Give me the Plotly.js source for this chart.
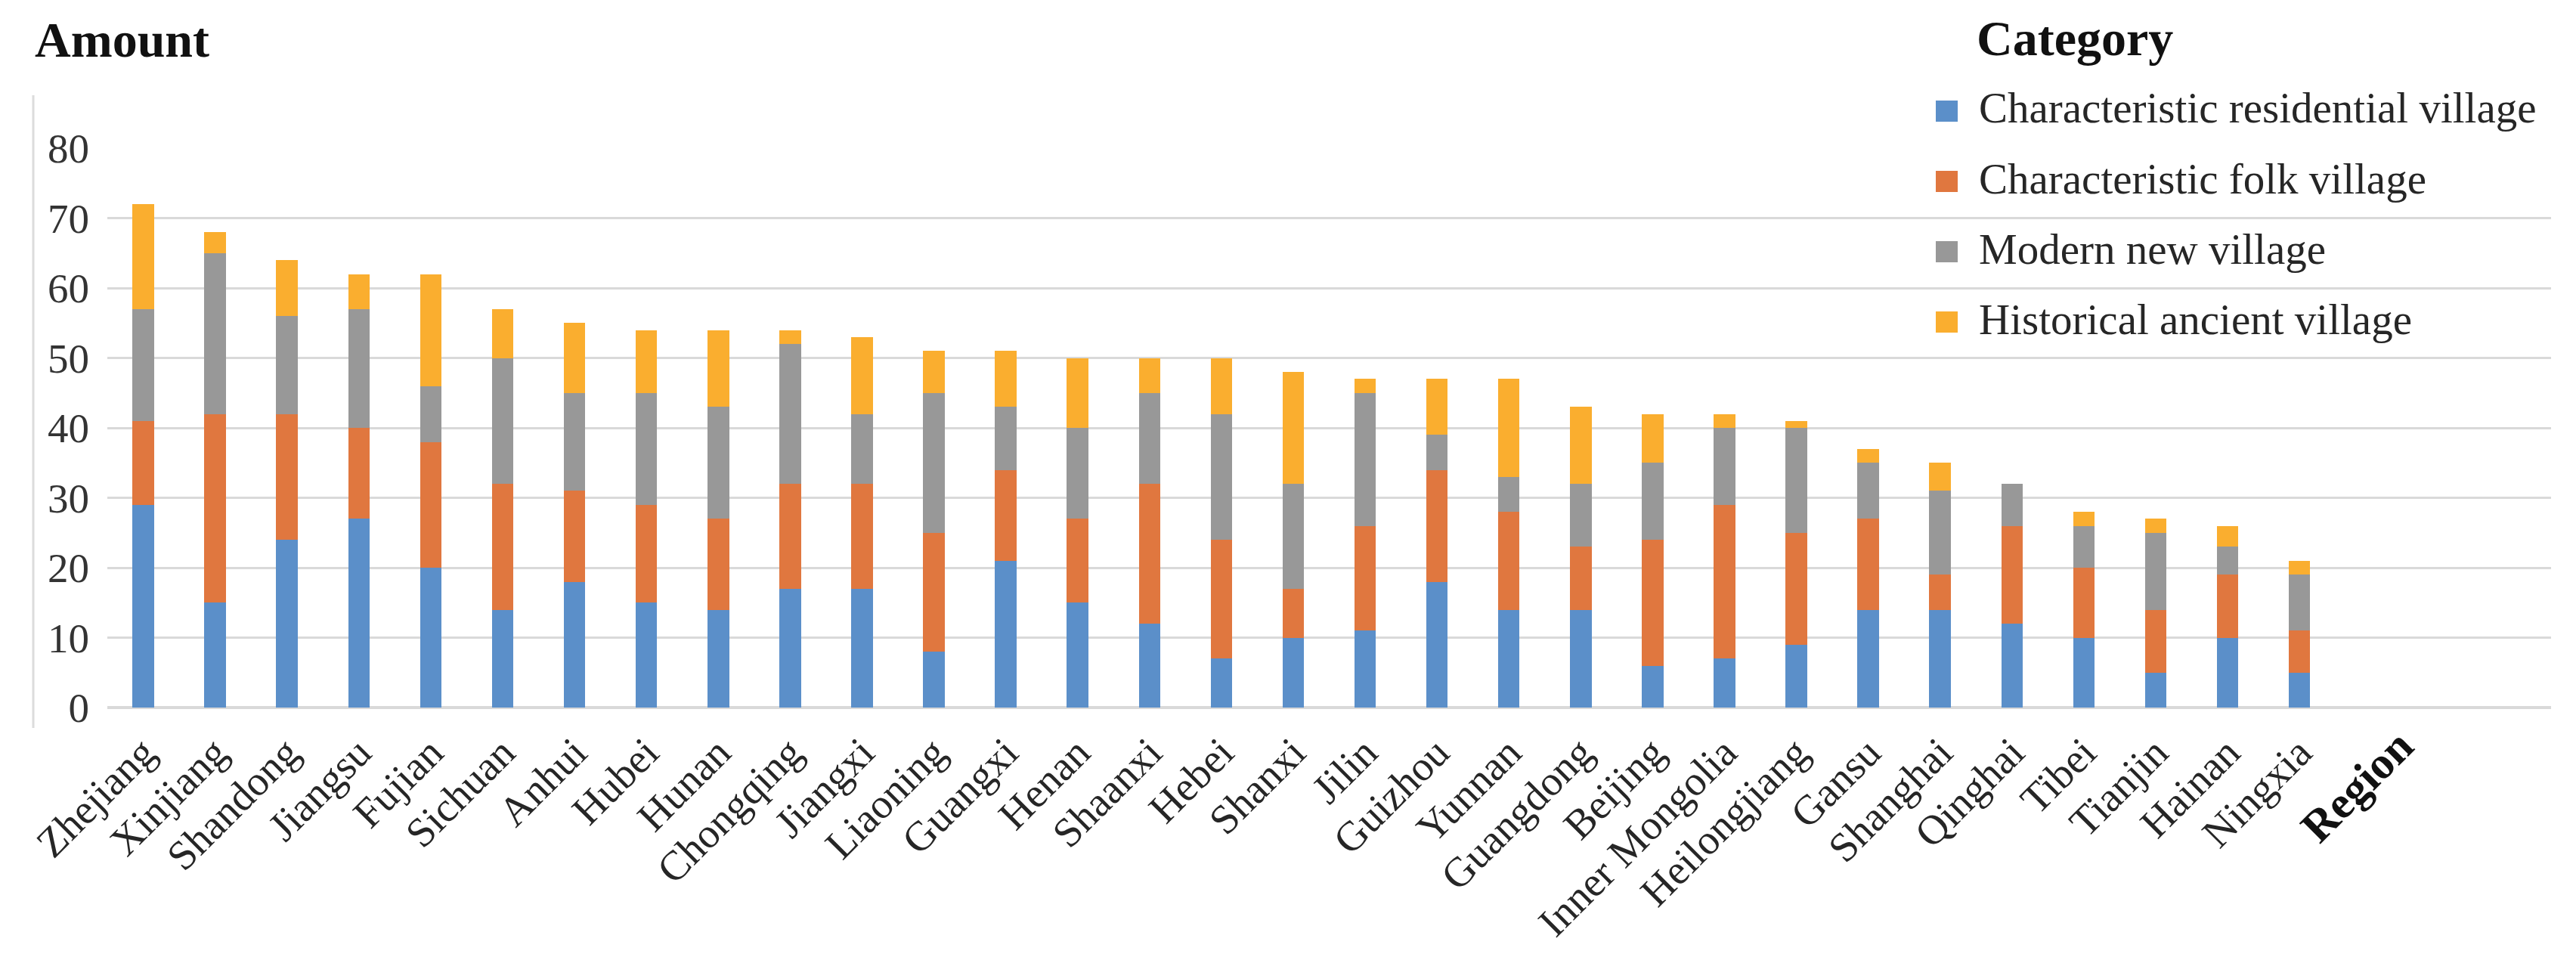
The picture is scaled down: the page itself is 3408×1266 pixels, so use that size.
<!DOCTYPE html>
<html>
<head>
<meta charset="utf-8">
<script src="https://cdn.plot.ly/plotly-3.0.1.min.js"></script>
<style>
  html, body { margin: 0; padding: 0; background: #ffffff; }
  #chart { width: 3408px; height: 1266px; }
</style>
</head>
<body>
<div id="chart"></div>
<script>
// ---- data ----
var regions = ["Zhejiang", "Xinjiang", "Shandong", "Jiangsu", "Fujian", "Sichuan", "Anhui", "Hubei",
  "Hunan", "Chongqing", "Jiangxi", "Liaoning", "Guangxi", "Henan", "Shaanxi", "Hebei", "Shanxi",
  "Jilin", "Guizhou", "Yunnan", "Guangdong", "Beijing", "Inner Mongolia", "Heilongjiang", "Gansu",
  "Shanghai", "Qinghai", "Tibei", "Tianjin", "Hainan", "Ningxia"];
var residential = [29, 15, 24, 27, 20, 14, 18, 15, 14, 17, 17, 8, 21, 15, 12, 7, 10, 11, 18, 14, 14, 6, 7, 9, 14, 14, 12, 10, 5, 10, 5];
var folk        = [12, 27, 18, 13, 18, 18, 13, 14, 13, 15, 15, 17, 13, 12, 20, 17, 7, 15, 16, 14, 9, 18, 22, 16, 13, 5, 14, 10, 9, 9, 6];
var modern      = [16, 23, 14, 17, 8, 18, 14, 16, 16, 20, 10, 20, 9, 13, 13, 18, 15, 19, 5, 5, 9, 11, 11, 15, 8, 12, 6, 6, 11, 4, 8];
var historical  = [15, 3, 8, 5, 16, 7, 10, 9, 11, 2, 11, 6, 8, 10, 5, 8, 16, 2, 8, 14, 11, 7, 2, 1, 2, 4, 0, 2, 2, 3, 2];
var seriesNames = ["Characteristic residential village", "Characteristic folk village",
  "Modern new village", "Historical ancient village"];
var seriesColors = ["#5B8FC9", "#E0773F", "#989898", "#FAAE2F"];
var yTicks = [0, 10, 20, 30, 40, 50, 60, 70, 80];

// ---- layout geometry (pixels) ----
var W = 3408, H = 1266;
var M = { l: 142, r: 33, t: 196, b: 330 };
var PW = W - M.l - M.r, PH = H - M.t - M.b;
function px(x) { return (x - M.l) / PW; }
function py(y) { return (H - M.b - y) / PH; }

var FONT = "Liberation Serif";
var seriesValues = [residential, folk, modern, historical];

var traces = seriesValues.map(function (vals, i) {
  return {
    type: "bar",
    name: seriesNames[i],
    x: regions,
    y: vals,
    marker: { color: seriesColors[i], line: { width: 0 } },
    showlegend: false,
    hoverinfo: "x+y+name"
  };
});

var shapes = [
  // light frame line at left of the chart area
  { type: "line", xref: "paper", yref: "paper", x0: px(44), x1: px(44), y0: py(126), y1: py(963),
    line: { color: "#dcdcdc", width: 3 } }
];
var annotations = [
  { text: "<b>Amount</b>", xref: "paper", yref: "paper", x: px(44), y: py(52), xanchor: "left", yanchor: "middle",
    showarrow: false, font: { family: FONT, size: 66, color: "#111111" } },
  { text: "<b>Category</b>", xref: "paper", yref: "paper", x: px(2613), y: py(50), xanchor: "left", yanchor: "middle",
    showarrow: false, font: { family: FONT, size: 66, color: "#111111" } },
  { text: "<b>Region</b>", xref: "paper", yref: "paper", x: px(3208), y: py(950), xanchor: "right", yanchor: "top",
    textangle: -45, showarrow: false, font: { family: FONT, size: 60, color: "#111111" } }
];
// legend (manual, to reproduce the large square keys)
var legendRowY = [147, 240, 333, 426];
seriesNames.forEach(function (name, i) {
  var cy = legendRowY[i];
  shapes.push({ type: "rect", xref: "paper", yref: "paper",
    x0: px(2561), x1: px(2590), y0: py(cy + 14), y1: py(cy - 14),
    fillcolor: seriesColors[i], line: { width: 0 } });
  annotations.push({ text: name, xref: "paper", yref: "paper", x: px(2616), y: py(cy - 4),
    xanchor: "left", yanchor: "middle", showarrow: false,
    font: { family: FONT, size: 57, color: "#262626" } });
});

var layout = {
  width: W, height: H,
  margin: M,
  paper_bgcolor: "#ffffff",
  plot_bgcolor: "#ffffff",
  barmode: "stack",
  bargap: 0.7,
  showlegend: false,
  font: { family: FONT, color: "#333333" },
  xaxis: {
    type: "category",
    range: [-0.5, 33.5],
    tickangle: -45,
    tickfont: { family: FONT, size: 55, color: "#262626" },
    showgrid: false,
    zeroline: false,
    showline: false,
    ticks: "outside", ticklen: 4, tickcolor: "rgba(0,0,0,0)",
    automargin: false
  },
  yaxis: {
    range: [0, 80],
    tickvals: yTicks,
    ticktext: yTicks.map(String),
    tickfont: { family: FONT, size: 55, color: "#333333" },
    showgrid: true, gridcolor: "#d9d9d9", gridwidth: 3,
    zeroline: true, zerolinecolor: "#d9d9d9", zerolinewidth: 4,
    showline: false,
    ticks: "outside", ticklen: 12, tickcolor: "rgba(0,0,0,0)",
    automargin: false
  },
  shapes: shapes,
  annotations: annotations
};

Plotly.newPlot("chart", traces, layout, { displayModeBar: false, staticPlot: true });
</script>
</body>
</html>
